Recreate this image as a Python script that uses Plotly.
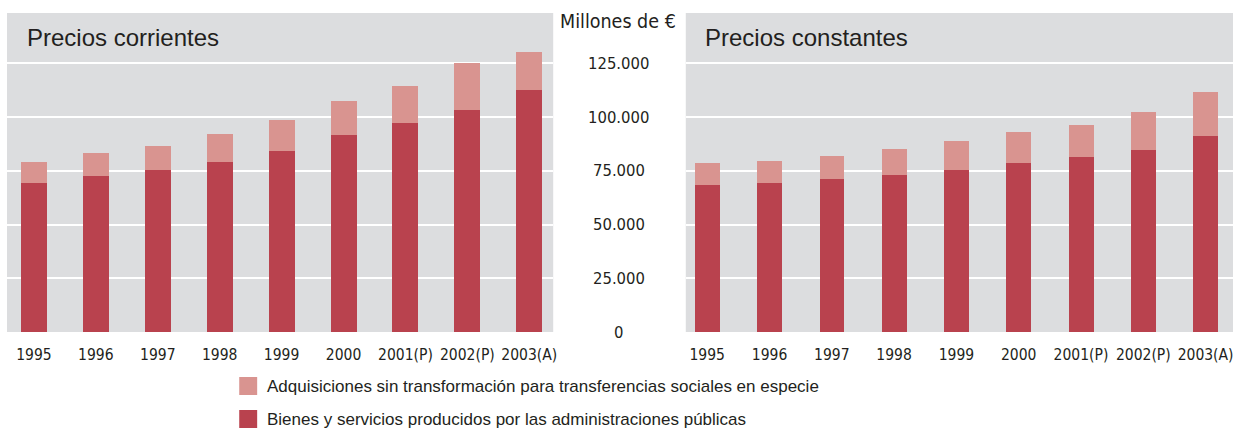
import plotly.graph_objects as go

years = ["1995", "1996", "1997", "1998", "1999", "2000", "2001(P)", "2002(P)", "2003(A)"]

# Precios corrientes (millones de €)
corr_bienes = [69200, 72400, 75200, 79000, 84100, 91500, 97100, 103100, 112400]
corr_adq = [9800, 10700, 11200, 13000, 14400, 15800, 17200, 21900, 17700]

# Precios constantes (millones de €)
const_bienes = [68300, 69200, 71000, 72900, 75200, 78500, 81300, 84500, 91000]
const_adq = [10200, 10200, 10700, 12100, 13500, 14400, 14900, 17700, 20500]

y_ticks = [0, 25000, 50000, 75000, 100000, 125000]
y_tick_labels = ["0", "25.000", "50.000", "75.000", "100.000", "125.000"]

name_bienes = "Bienes y servicios producidos por las administraciones públicas"
name_adq = "Adquisiciones sin transformación para transferencias sociales en especie"

DARK = "#b9424e"
LIGHT = "#d99490"
BG = "#dcdddf"
TXT = "#231f20"
NARROW = "DejaVu Sans Condensed, Liberation Sans Narrow, Arial Narrow, sans-serif"
SANS = "Liberation Sans, Arial, Helvetica, sans-serif"

fig = go.Figure()
fig.add_trace(go.Bar(x=years, y=corr_bienes, name=name_bienes, marker_color=DARK,
                     width=0.42, xaxis="x", yaxis="y", showlegend=False))
fig.add_trace(go.Bar(x=years, y=corr_adq, name=name_adq, marker_color=LIGHT,
                     width=0.42, xaxis="x", yaxis="y", showlegend=False))
fig.add_trace(go.Bar(x=years, y=const_bienes, name=name_bienes, marker_color=DARK,
                     width=0.40, xaxis="x2", yaxis="y2", showlegend=False))
fig.add_trace(go.Bar(x=years, y=const_adq, name=name_adq, marker_color=LIGHT,
                     width=0.40, xaxis="x2", yaxis="y2", showlegend=False))
fig.update_traces(marker_line_width=0)

W, H = 1238, 430
ydom = [1 - 332 / H, 1 - 13 / H]
yrange = [0, 148400]

axis_common = dict(showgrid=False, zeroline=False, showline=False, ticks="",
                   tickangle=0,
                   tickfont=dict(family=NARROW, size=15.5, color=TXT),
                   ticklabelstandoff=11, fixedrange=True)
yaxis_common = dict(range=yrange, tickvals=y_ticks, showticklabels=False,
                    showgrid=True, gridcolor="white", gridwidth=1.5,
                    zeroline=False, showline=False, ticks="", fixedrange=True)

fig.update_layout(
    width=W, height=H,
    margin=dict(l=0, r=0, t=0, b=0),
    paper_bgcolor="white",
    plot_bgcolor=BG,
    barmode="stack",
    bargap=0,
    showlegend=False,
    xaxis=dict(domain=[7 / W, 555 / W], range=[-0.435, 8.386], anchor="y", **axis_common),
    xaxis2=dict(domain=[688 / W, 1237 / W], range=[-0.344, 8.44], anchor="y2", **axis_common),
    yaxis=dict(domain=ydom, anchor="x", **yaxis_common),
    yaxis2=dict(domain=ydom, anchor="x2", matches="y", **yaxis_common),
)

annotations = []
for v, t in zip(y_ticks, y_tick_labels):
    annotations.append(dict(x=621 / W, xref="paper", y=v, yref="y", text=t,
                            showarrow=False, xanchor="center", yanchor="middle",
                            font=dict(family=NARROW, size=16.5, color=TXT)))
annotations.append(dict(x=620 / W, xref="paper", y=1 - 22 / H, yref="paper",
                        text="Millones de €", showarrow=False, xanchor="center",
                        yanchor="middle", font=dict(family=NARROW, size=19.5, color=TXT)))
annotations.append(dict(x=25 / W, xref="paper", y=1 - 38 / H, yref="paper",
                        text="Precios corrientes", showarrow=False, xanchor="left",
                        yanchor="middle", font=dict(family=SANS, size=24, color=TXT)))
annotations.append(dict(x=705 / W, xref="paper", y=1 - 38 / H, yref="paper",
                        text="Precios constantes", showarrow=False, xanchor="left",
                        yanchor="middle", font=dict(family=SANS, size=24, color=TXT)))

# Legend (drawn manually to match square swatches)
legend_items = [(name_adq, LIGHT, 386), (name_bienes, DARK, 419)]
shapes = []
for text, col, yc in legend_items:
    shapes.append(dict(type="rect", xref="paper", yref="paper",
                       x0=240 / W, x1=258 / W, y0=1 - (yc + 9) / H, y1=1 - (yc - 9) / H,
                       fillcolor=col, line=dict(width=0)))
    annotations.append(dict(x=266 / W, xref="paper", y=1 - yc / H, yref="paper",
                            text=text, showarrow=False, xanchor="left", yanchor="middle",
                            font=dict(family=SANS, size=17, color=TXT)))

fig.update_layout(annotations=annotations, shapes=shapes)
fig.write_html("out.html",
               config={"displayModeBar": False},
               post_script="document.body.style.margin='0';document.body.style.padding='0';"
                           "document.body.style.overflow='hidden';")
